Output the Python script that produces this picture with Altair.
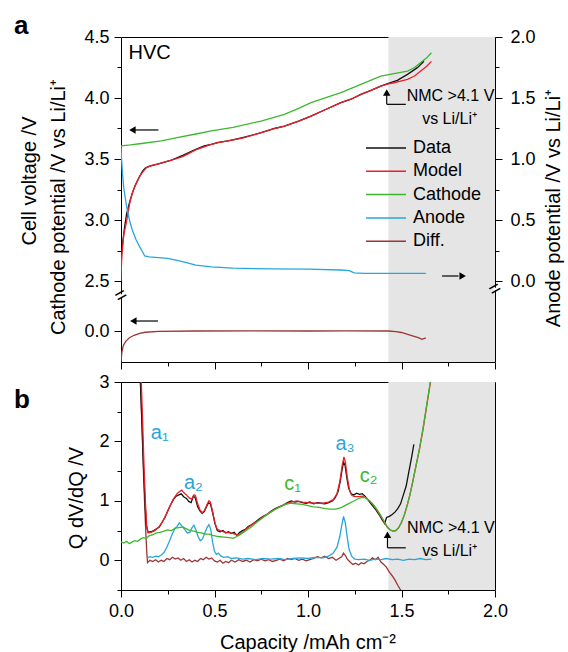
import altair as alt
import pandas as pd

# ---------------- data: panel a (voltage curves) ----------------
a_data = [(0.0, 2.50), (0.002, 2.70), (0.01, 2.83), (0.02, 2.95), (0.03, 3.05), (0.045, 3.14),
          (0.058, 3.21), (0.075, 3.28), (0.097, 3.35), (0.115, 3.40), (0.13, 3.425), (0.15, 3.44),
          (0.2, 3.46), (0.27, 3.49), (0.33, 3.53), (0.4, 3.58), (0.445, 3.607), (0.483, 3.62),
          (0.52, 3.636), (0.572, 3.648), (0.65, 3.675), (0.75, 3.716), (0.82, 3.75), (0.874, 3.77),
          (0.95, 3.81), (1.016, 3.852), (1.1, 3.91), (1.176, 3.962), (1.23, 3.99), (1.283, 4.03),
          (1.34, 4.065), (1.389, 4.098), (1.43, 4.12), (1.478, 4.145), (1.532, 4.194),
          (1.585, 4.249), (1.62, 4.30)]
a_model = [(0.0, 2.50), (0.002, 2.62), (0.005, 2.72), (0.015, 2.88), (0.03, 2.99), (0.048, 3.15),
           (0.065, 3.24), (0.087, 3.32), (0.105, 3.37), (0.12, 3.40), (0.136, 3.43), (0.16, 3.445),
           (0.2, 3.46), (0.27, 3.49), (0.33, 3.52), (0.4, 3.575), (0.445, 3.60), (0.483, 3.62),
           (0.52, 3.635), (0.572, 3.648), (0.65, 3.672), (0.75, 3.716), (0.82, 3.748), (0.874, 3.77),
           (0.95, 3.81), (1.016, 3.852), (1.1, 3.91), (1.176, 3.962), (1.23, 3.99), (1.283, 4.03),
           (1.34, 4.065), (1.389, 4.098), (1.43, 4.115), (1.46, 4.125), (1.5, 4.14), (1.532, 4.153),
           (1.57, 4.18), (1.603, 4.221), (1.635, 4.26), (1.66, 4.30)]
a_cathode = [(0.0, 3.607), (0.05, 3.615), (0.1, 3.625), (0.216, 3.648), (0.3, 3.675), (0.4, 3.705),
             (0.483, 3.73), (0.6, 3.76), (0.749, 3.811), (0.874, 3.866), (0.95, 3.915),
             (1.016, 3.962), (1.1, 4.005), (1.176, 4.044), (1.283, 4.112), (1.389, 4.18),
             (1.46, 4.20), (1.532, 4.221), (1.57, 4.25), (1.603, 4.29), (1.635, 4.33), (1.66, 4.371)]
a_anode = [(0.0, 1.11), (0.003, 1.0), (0.008, 0.88), (0.015, 0.76), (0.029, 0.62), (0.045, 0.50),
           (0.06, 0.42), (0.08, 0.34), (0.1, 0.28), (0.115, 0.24), (0.127, 0.205), (0.15, 0.197),
           (0.25, 0.186), (0.3, 0.17), (0.35, 0.15), (0.4, 0.13), (0.483, 0.115), (0.6, 0.105),
           (0.8, 0.10), (1.0, 0.097), (1.176, 0.09), (1.22, 0.085), (1.247, 0.066), (1.3, 0.063),
           (1.45, 0.063), (1.63, 0.063)]
a_diff = [(0.0, -0.25), (0.005, -0.17), (0.012, -0.12), (0.025, -0.085), (0.045, -0.055),
          (0.07, -0.035), (0.1, -0.02), (0.13, -0.01), (0.2, -0.003), (0.4, 0.0), (0.7, 0.001),
          (1.0, 0.0), (1.2, 0.001), (1.43, 0.0), (1.47, -0.005), (1.5, -0.012), (1.55, -0.035),
          (1.59, -0.055), (1.61, -0.068), (1.63, -0.057)]

# ---------------- data: panel b (Q dV/dQ) ----------------
b_data = [(0.103, 3.05), (0.112, 2.3), (0.12, 1.6), (0.128, 1.0), (0.135, 0.6), (0.145, 0.47),
          (0.16, 0.48), (0.175, 0.50), (0.19, 0.53), (0.205, 0.56), (0.22, 0.64), (0.235, 0.72),
          (0.25, 0.83), (0.265, 0.93), (0.28, 1.02), (0.295, 1.08), (0.31, 1.10), (0.322, 1.12),
          (0.335, 1.07), (0.35, 1.04), (0.362, 0.99), (0.375, 0.97), (0.387, 1.08), (0.397, 1.05),
          (0.41, 0.90), (0.422, 0.83), (0.434, 0.79), (0.445, 0.82), (0.457, 0.90), (0.468, 0.97),
          (0.478, 0.95), (0.49, 0.80), (0.502, 0.62), (0.515, 0.50), (0.53, 0.48), (0.545, 0.50),
          (0.56, 0.46), (0.575, 0.48), (0.59, 0.45), (0.605, 0.47), (0.62, 0.42), (0.635, 0.47),
          (0.65, 0.50), (0.665, 0.52), (0.68, 0.57), (0.7, 0.60), (0.72, 0.65), (0.74, 0.70),
          (0.76, 0.74), (0.78, 0.77), (0.8, 0.82), (0.82, 0.86), (0.845, 0.90), (0.87, 0.93),
          (0.89, 0.97), (0.91, 1.00), (0.93, 0.98), (0.95, 0.99), (0.97, 0.97), (0.99, 0.96),
          (1.01, 0.98), (1.03, 0.95), (1.05, 0.97), (1.07, 0.96), (1.09, 0.95), (1.11, 0.97),
          (1.13, 1.00), (1.145, 1.05), (1.16, 1.15), (1.172, 1.32), (1.182, 1.52), (1.19, 1.65),
          (1.198, 1.60), (1.207, 1.40), (1.217, 1.22), (1.23, 1.12), (1.245, 1.10), (1.26, 1.13),
          (1.275, 1.11), (1.29, 1.12), (1.305, 1.08), (1.32, 1.02), (1.335, 0.96), (1.35, 0.90),
          (1.365, 0.84), (1.38, 0.77), (1.395, 0.69), (1.41, 0.62), (1.42, 0.72), (1.435, 0.74),
          (1.45, 0.77), (1.465, 0.81), (1.48, 0.87), (1.495, 0.95), (1.51, 1.10), (1.525, 1.25),
          (1.54, 1.50), (1.555, 1.75), (1.566, 1.95)]
b_model = [(0.108, 3.05), (0.116, 2.3), (0.124, 1.5), (0.131, 0.95), (0.138, 0.55), (0.145, 0.46),
           (0.16, 0.47), (0.18, 0.50), (0.2, 0.55), (0.22, 0.64), (0.24, 0.76), (0.26, 0.90),
           (0.28, 1.03), (0.3, 1.12), (0.315, 1.16), (0.325, 1.18), (0.335, 1.14), (0.35, 1.10),
           (0.365, 1.05), (0.378, 1.03), (0.39, 1.10), (0.398, 1.09), (0.41, 0.95), (0.422, 0.85),
           (0.434, 0.80), (0.447, 0.84), (0.46, 0.94), (0.47, 1.00), (0.478, 0.98), (0.49, 0.82),
           (0.503, 0.62), (0.515, 0.52), (0.535, 0.49), (0.56, 0.47), (0.585, 0.46), (0.61, 0.44),
           (0.63, 0.42), (0.645, 0.46), (0.66, 0.50), (0.68, 0.55), (0.7, 0.60), (0.73, 0.66),
           (0.76, 0.73), (0.79, 0.79), (0.82, 0.85), (0.85, 0.90), (0.88, 0.95), (0.91, 0.98),
           (0.94, 1.00), (0.97, 0.98), (1.0, 0.97), (1.04, 0.96), (1.08, 0.96), (1.11, 0.98),
           (1.135, 1.02), (1.155, 1.12), (1.17, 1.32), (1.182, 1.58), (1.192, 1.74), (1.2, 1.65),
           (1.21, 1.40), (1.222, 1.18), (1.235, 1.09), (1.25, 1.07), (1.27, 1.07), (1.29, 1.08),
           (1.31, 1.05), (1.33, 1.00), (1.35, 0.93), (1.37, 0.84), (1.39, 0.74), (1.41, 0.63),
           (1.425, 0.55), (1.44, 0.51), (1.455, 0.49), (1.47, 0.50), (1.485, 0.55), (1.5, 0.64),
           (1.515, 0.76), (1.53, 0.92), (1.545, 1.10), (1.56, 1.32), (1.575, 1.55), (1.595, 1.85),
           (1.615, 2.2), (1.635, 2.6), (1.655, 3.0), (1.66, 3.1)]
b_cathode = [(0.0, 0.31), (0.015, 0.29), (0.03, 0.32), (0.045, 0.28), (0.06, 0.31), (0.075, 0.33),
             (0.09, 0.32), (0.105, 0.36), (0.12, 0.38), (0.135, 0.37), (0.15, 0.41), (0.17, 0.43),
             (0.19, 0.46), (0.21, 0.47), (0.23, 0.49), (0.25, 0.51), (0.27, 0.50), (0.29, 0.54),
             (0.31, 0.55), (0.33, 0.56), (0.35, 0.53), (0.37, 0.50), (0.39, 0.49), (0.41, 0.47),
             (0.43, 0.46), (0.45, 0.44), (0.47, 0.44), (0.49, 0.42), (0.52, 0.40), (0.55, 0.39),
             (0.58, 0.38), (0.6, 0.37), (0.62, 0.40), (0.64, 0.44), (0.67, 0.50), (0.7, 0.57),
             (0.73, 0.65), (0.76, 0.72), (0.79, 0.79), (0.82, 0.85), (0.85, 0.90), (0.88, 0.94),
             (0.91, 0.96), (0.94, 0.95), (0.97, 0.94), (1.0, 0.92), (1.03, 0.90), (1.06, 0.89),
             (1.09, 0.87), (1.12, 0.86), (1.15, 0.86), (1.18, 0.89), (1.21, 0.94), (1.24, 0.99),
             (1.27, 1.04), (1.29, 1.06), (1.31, 1.05), (1.33, 1.00), (1.35, 0.93), (1.37, 0.85),
             (1.39, 0.75), (1.41, 0.64), (1.425, 0.56), (1.44, 0.51), (1.455, 0.49), (1.47, 0.50),
             (1.485, 0.55), (1.5, 0.64), (1.515, 0.76), (1.53, 0.92), (1.545, 1.10), (1.56, 1.32),
             (1.575, 1.55), (1.595, 1.86), (1.615, 2.22), (1.635, 2.62), (1.655, 3.02)]
b_anode = [(0.14, 0.04), (0.155, 0.06), (0.17, 0.05), (0.185, 0.07), (0.2, 0.06), (0.215, 0.09),
           (0.23, 0.13), (0.245, 0.22), (0.26, 0.33), (0.275, 0.45), (0.29, 0.54), (0.3, 0.57),
           (0.312, 0.63), (0.325, 0.58), (0.34, 0.52), (0.355, 0.46), (0.368, 0.47), (0.38, 0.55),
           (0.39, 0.59), (0.4, 0.52), (0.412, 0.40), (0.424, 0.33), (0.436, 0.36), (0.448, 0.46),
           (0.46, 0.55), (0.47, 0.60), (0.48, 0.52), (0.49, 0.30), (0.5, 0.15), (0.51, 0.10),
           (0.52, 0.12), (0.535, 0.07), (0.55, 0.05), (0.57, 0.06), (0.59, 0.03), (0.62, 0.04),
           (0.65, 0.02), (0.68, 0.03), (0.72, 0.01), (0.76, 0.03), (0.8, 0.02), (0.84, 0.03),
           (0.88, 0.01), (0.92, 0.03), (0.96, 0.04), (1.0, 0.03), (1.04, 0.05), (1.08, 0.04),
           (1.11, 0.07), (1.135, 0.12), (1.155, 0.22), (1.17, 0.40), (1.18, 0.58), (1.19, 0.74),
           (1.2, 0.62), (1.21, 0.38), (1.22, 0.18), (1.235, 0.06), (1.25, 0.02), (1.27, 0.01),
           (1.3, 0.02), (1.33, 0.00), (1.36, 0.02), (1.39, 0.01), (1.42, 0.03), (1.45, 0.01),
           (1.48, 0.02), (1.51, 0.00), (1.54, 0.02), (1.57, 0.01), (1.6, 0.03), (1.63, 0.01),
           (1.66, 0.02)]
b_diff = [(0.103, 3.1), (0.112, 2.3), (0.12, 1.5), (0.127, 0.9), (0.133, 0.45), (0.138, 0.12),
          (0.142, -0.04), (0.155, 0.0), (0.17, -0.02), (0.185, 0.01), (0.2, -0.03), (0.215, 0.0),
          (0.23, -0.02), (0.245, 0.03), (0.26, 0.01), (0.275, 0.05), (0.29, 0.02), (0.305, 0.04),
          (0.32, 0.0), (0.335, 0.03), (0.35, -0.02), (0.365, 0.01), (0.38, -0.03), (0.395, 0.0),
          (0.41, -0.02), (0.425, 0.03), (0.44, 0.01), (0.455, 0.05), (0.47, 0.02), (0.485, 0.04),
          (0.5, -0.01), (0.515, -0.03), (0.53, 0.0), (0.545, -0.05), (0.56, -0.02), (0.575, -0.04),
          (0.59, 0.0), (0.61, -0.03), (0.63, 0.01), (0.65, -0.02), (0.67, 0.0), (0.69, -0.03),
          (0.71, 0.01), (0.73, -0.01), (0.75, 0.02), (0.77, -0.01), (0.79, 0.01), (0.81, -0.02),
          (0.83, 0.0), (0.85, 0.02), (0.87, -0.01), (0.89, 0.03), (0.91, 0.01), (0.93, 0.03),
          (0.95, 0.0), (0.97, 0.02), (0.99, -0.01), (1.01, 0.01), (1.03, 0.03), (1.05, 0.06),
          (1.07, 0.04), (1.09, 0.07), (1.11, 0.03), (1.13, 0.05), (1.15, 0.0), (1.165, 0.03),
          (1.18, 0.06), (1.19, 0.12), (1.2, 0.08), (1.21, 0.02), (1.225, -0.03), (1.24, -0.07),
          (1.255, -0.05), (1.27, -0.08), (1.285, -0.04), (1.3, -0.06), (1.315, -0.02), (1.33, 0.0),
          (1.345, 0.04), (1.36, 0.01), (1.375, 0.05), (1.39, -0.03), (1.405, -0.07), (1.42, -0.12),
          (1.435, -0.2), (1.45, -0.26), (1.465, -0.33), (1.48, -0.42), (1.495, -0.5), (1.505, -0.56)]

series_names = ["Data", "Model", "Cathode", "Anode", "Diff."]
series_colors = ["#111111", "#e8202a", "#3db82e", "#27a6dc", "#9b3535"]

x_ticks = [0, 0.25, 0.5, 0.75, 1.0, 1.25, 1.5, 1.75, 2.0]
a_left_ticks = [2.5, 2.75, 3.0, 3.25, 3.5, 3.75, 4.0, 4.25, 4.5]
a_right_ticks = [0, 0.25, 0.5, 0.75, 1.0, 1.25, 1.5, 1.75, 2.0]
b_left_ticks = [-0.5, 0, 0.5, 1, 1.5, 2, 2.5, 3]
shade = [(1.43, 2.0)]

peak_labels = ["a₁", "a₂", "a₃", "c₁", "c₂"]
peak_x = [0.207, 0.387, 1.198, 0.918, 1.324]
peak_y = [2.15, 1.30, 1.95, 1.28, 1.41]
peak_col = ["#27a6dc", "#27a6dc", "#27a6dc", "#3db82e", "#3db82e"]

# ---------------- layout constants ----------------
FONT = "Liberation Sans"
W, HA, HB = 374, 325, 208
PXV = 122.0
YA0 = 4.5 - HA / PXV
DIFF0 = 2.09
LEG_X0, LEG_X1, LEG_TX, LEG_Y0, LEG_DY = 245, 285, 292, 111, 23.3

MAJOR = "abs(datum.value*2 - round(datum.value*2)) < 0.001"

xs = alt.Scale(domain=[0, 2], nice=False, zero=False)
ys_a = alt.Scale(domain=[YA0, 4.5], nice=False, zero=False)
ys_an = alt.Scale(domain=[YA0 - 2.5, 2.0], nice=False, zero=False)
ys_b = alt.Scale(domain=[-0.5, 3.0], nice=False, zero=False)

ax_xa = alt.Axis(values=x_ticks, labels=False, title=None, grid=False, domain=False,
                 tickSize={"condition": {"test": MAJOR, "value": 7}, "value": 4})
ax_xb = alt.Axis(values=x_ticks, title=None, grid=False, domain=False, labelFlush=False,
                 labelExpr=f"{MAJOR} ? format(datum.value, '.1f') : ''", labelPadding=5,
                 tickSize={"condition": {"test": MAJOR, "value": 7}, "value": 4})
ax_ya = alt.Axis(values=[DIFF0] + a_left_ticks, title=None, grid=False, domain=False,
                 labelExpr=f"datum.value < 2.3 ? '0.0' : ({MAJOR} ? format(datum.value, '.1f') : '')",
                 labelPadding=5,
                 tickSize={"condition": {"test": f"datum.value < 2.3 || {MAJOR}", "value": 7}, "value": 4})
ax_yan = alt.Axis(values=a_right_ticks, title=None, grid=False, domain=False, orient="right",
                  labelExpr=f"{MAJOR} ? format(datum.value, '.1f') : ''", labelPadding=8,
                  tickSize={"condition": {"test": MAJOR, "value": 7}, "value": 4})
ax_yb = alt.Axis(values=b_left_ticks, title=None, grid=False, domain=False,
                 labelExpr="datum.value == round(datum.value) ? format(datum.value, 'd') : ''",
                 labelPadding=5,
                 tickSize={"condition": {"test": "datum.value == round(datum.value)", "value": 7}, "value": 4})


def frame(pairs, name):
    return pd.DataFrame({"cap": [p[0] for p in pairs], "val": [p[1] for p in pairs],
                         "series": name, "i": list(range(len(pairs)))})


def X(field, axis):
    return alt.X(field, type="quantitative", scale=xs, axis=axis)


def Y(field, scale, axis):
    return alt.Y(field, type="quantitative", scale=scale, axis=axis)


def label(text, px, py, size=20, angle=0, weight="normal", align="center", baseline="middle"):
    kw = dict(fontSize=size, font=FONT, fontWeight=weight, align=align, baseline=baseline, color="black")
    if angle:
        kw["angle"] = angle
    return alt.Chart(pd.DataFrame({"t": [text]})).mark_text(**kw).encode(
        text="t:N", x=alt.value(px), y=alt.value(py))


def legend_rows():
    layers = []
    for k, (name, col) in enumerate(zip(series_names, series_colors)):
        yy = LEG_Y0 + LEG_DY * k
        df = pd.DataFrame({"t": [name]})
        layers.append(alt.Chart(df).mark_rule(color=col, strokeWidth=1.5).encode(
            x=alt.value(LEG_X0), x2=alt.value(LEG_X1), y=alt.value(yy)))
        layers.append(alt.Chart(df).mark_text(font=FONT, fontSize=18, align="left", baseline="middle",
                                              color="black").encode(
            text="t:N", x=alt.value(LEG_TX), y=alt.value(yy)))
    return layers


def shade_layer(axx):
    df = pd.DataFrame({"x0": [s[0] for s in shade], "x1": [s[1] for s in shade]})
    return alt.Chart(df).mark_rect(color="#e5e5e5").encode(x=X("x0", axx), x2="x1")


def arrow(x1, x2, y, head_x, shape, axx, yscale, yaxis, vertical=False):
    if vertical:
        df = pd.DataFrame({"x": [x1], "y1": [x2], "y2": [y]})
        shaft = alt.Chart(df).mark_rule(color="black", strokeWidth=1.2).encode(
            x=X("x", axx), y=Y("y1", yscale, yaxis), y2="y2")
        hd = pd.DataFrame({"x": [x1], "y": [head_x]})
    else:
        df = pd.DataFrame({"x1": [x1], "x2": [x2], "y": [y]})
        shaft = alt.Chart(df).mark_rule(color="black", strokeWidth=1.2).encode(
            x=X("x1", axx), x2="x2", y=Y("y", yscale, yaxis))
        hd = pd.DataFrame({"x": [head_x], "y": [y]})
    head = alt.Chart(hd).mark_point(shape=shape, filled=True, size=55, color="black", opacity=1).encode(
        x=X("x", axx), y=Y("y", yscale, yaxis))
    return shaft + head


def data_text(texts, xs_, ys_, colors, size, axx, yscale, yaxis, align="center"):
    df = pd.DataFrame({"t": texts, "x": xs_, "y": ys_, "c": colors})
    return alt.Chart(df).mark_text(font=FONT, fontSize=size, align=align, baseline="middle").encode(
        text="t:N", x=X("x", axx), y=Y("y", yscale, yaxis), color=alt.Color("c:N", scale=None))


# ---------------- panel a ----------------
def line_a(pairs, name, shift=None):
    ch = alt.Chart(frame(pairs, name))
    yfield = "val"
    if shift is not None:
        ch = ch.transform_calculate(yy=f"datum.val + {shift}")
        yfield = "yy"
    col = series_colors[series_names.index(name)]
    return ch.mark_line(strokeWidth=1.3, clip=True, color=col).encode(
        x=X("cap", ax_xa), y=Y(yfield, ys_a, ax_ya), order="i:Q")


brk = pd.DataFrame({"x": [0.0, 2.0], "y": [2.38, 2.434], "t": ["=", "="]})
brk_cover = pd.DataFrame({"x": [0.0, 2.0], "y1": [2.369, 2.423], "y2": [2.391, 2.445]})

left_a = alt.layer(
    shade_layer(ax_xa),
    line_a(a_diff, "Diff.", shift=DIFF0),
    line_a(a_cathode, "Cathode"),
    line_a(a_data, "Data"),
    line_a(a_model, "Model"),
    arrow(0.07, 0.2, 3.738, 0.061, "triangle-left", ax_xa, ys_a, ax_ya),
    arrow(0.075, 0.198, DIFF0 + 0.082, 0.066, "triangle-left", ax_xa, ys_a, ax_ya),
    arrow(1.421, 3.948, 4.03, 4.045, "triangle-up", ax_xa, ys_a, ax_ya, vertical=True),
    alt.Chart(pd.DataFrame({"x1": [1.421], "x2": [1.523], "y": [3.948]})).mark_rule(
        color="black", strokeWidth=1.2).encode(x=X("x1", ax_xa), x2="x2", y=Y("y", ys_a, ax_ya)),
    data_text(["HVC"], [0.04], [4.369], ["black"], 20, ax_xa, ys_a, ax_ya, align="left"),
    data_text(["NMC >4.1 V"], [1.528], [4.016], ["black"], 16, ax_xa, ys_a, ax_ya, align="left"),
    data_text(["vs Li/Li⁺"], [1.757], [3.828], ["black"], 16, ax_xa, ys_a, ax_ya),
    alt.Chart(brk_cover).mark_rule(color="white", strokeWidth=3).encode(
        x=X("x", ax_xa), y=Y("y1", ys_a, ax_ya), y2="y2"),
    alt.Chart(brk).mark_text(font=FONT, fontSize=20, angle=330, baseline="middle", color="black").encode(
        text="t:N", x=X("x", ax_xa), y=Y("y", ys_a, ax_ya)),
    *legend_rows(),
    label("Cell voltage /V", -91, 144, size=20, angle=270),
    label("Cathode potential /V vs Li/Li⁺", -62, 170, size=20, angle=270),
    label("Anode potential /V vs Li/Li⁺", 433, 171, size=20, angle=270),
    label("a", -107, -3, size=26, weight="bold", align="left", baseline="alphabetic"),
)

right_a = alt.layer(
    alt.Chart(frame(a_anode, "Anode")).mark_line(strokeWidth=1.3, clip=True, color=series_colors[3]).encode(
        x=X("cap", ax_xa), y=Y("val", ys_an, ax_yan), order="i:Q"),
    arrow(1.717, 1.805, 0.041, 1.827, "triangle-right", ax_xa, ys_an, ax_yan),
)

panel_a = alt.layer(left_a, right_a).resolve_scale(y="independent").properties(width=W, height=HA)


# ---------------- panel b ----------------
def line_b(pairs, color):
    return alt.Chart(frame(pairs, "s")).mark_line(strokeWidth=1.3, clip=True, color=color).encode(
        x=X("cap", ax_xb), y=Y("val", ys_b, ax_yb), order="i:Q")


panel_b = alt.layer(
    shade_layer(ax_xb),
    line_b(b_diff, series_colors[4]),
    line_b(b_anode, series_colors[3]),
    line_b(b_data, series_colors[0]),
    line_b(b_model, series_colors[1]),
    line_b(b_cathode, series_colors[2]),
    arrow(1.425, 0.21, 0.40, 0.43, "triangle-up", ax_xb, ys_b, ax_yb, vertical=True),
    alt.Chart(pd.DataFrame({"x1": [1.425], "x2": [1.523], "y": [0.21]})).mark_rule(
        color="black", strokeWidth=1.2).encode(x=X("x1", ax_xb), x2="x2", y=Y("y", ys_b, ax_yb)),
    data_text(["NMC >4.1 V"], [1.53], [0.544], ["black"], 16, ax_xb, ys_b, ax_yb, align="left"),
    data_text(["vs Li/Li⁺"], [1.758], [0.15], ["black"], 16, ax_xb, ys_b, ax_yb),
    data_text(peak_labels, peak_x, peak_y, peak_col, 20, ax_xb, ys_b, ax_yb),
    label("Q dV/dQ /V", -44, 116, size=20, angle=270),
    label("Capacity /mAh cm⁻²", 187, 261, size=20),
    label("b", -107, 26, size=26, weight="bold", align="left", baseline="alphabetic"),
).properties(width=W, height=HB)

chart = alt.vconcat(panel_a, panel_b, spacing=20, bounds="flush").properties(
    padding={"left": 13, "top": 12, "right": 0, "bottom": 0},
    background="white",
).configure_view(stroke="black", strokeWidth=1).configure_axis(
    labelFont=FONT, labelFontSize=18, labelColor="black", tickColor="black", tickWidth=1
)

chart.save("out.html", embed_options={"renderer": "svg", "actions": False})
